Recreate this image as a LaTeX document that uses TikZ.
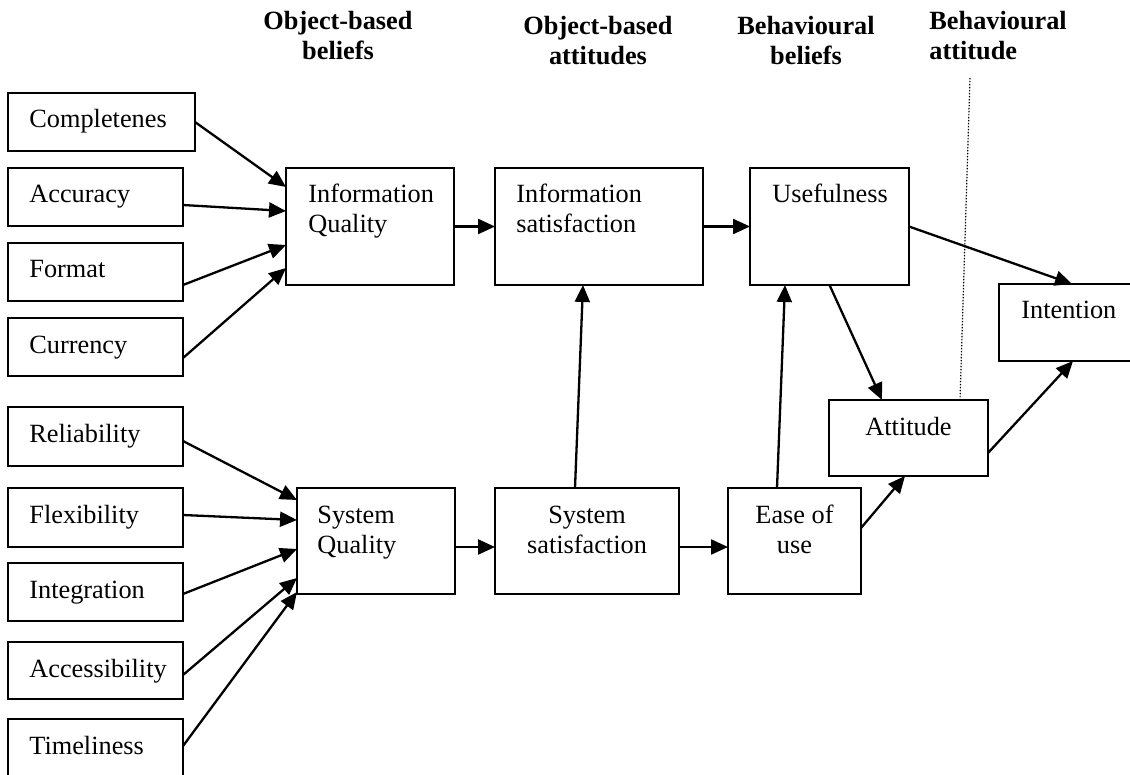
\documentclass[tikz,border=0pt]{standalone}
\usepackage{fontspec}
\setmainfont{Liberation Serif}
\usetikzlibrary{arrows.meta}

% multi-line labels whose baseline is the first line
\newcommand{\stackL}[1]{\begin{tabular}[t]{@{}l@{}}#1\end{tabular}}
\newcommand{\stackC}[1]{\begin{tabular}[t]{@{}c@{}}#1\end{tabular}}
% named empty box: name, x, y (top-left corner), width, height
\newcommand{\mkbox}[5]{\node[box, minimum width=#4*0.5pt, minimum height=#5*0.5pt] (#1) at (#2,#3) {};}

\begin{document}
\begin{tikzpicture}[x=0.5pt,y=-0.5pt,
  every node/.style={font=\fontsize{13.15pt}{15pt}\selectfont},
  box/.style={draw, line width=0.85pt, inner sep=0pt, outer sep=0pt, anchor=north west},
  lbl/.style={inner sep=0pt, anchor=base west},
  clbl/.style={inner sep=0pt, anchor=base},
  head/.style={inner sep=0pt, font=\fontsize{13.15pt}{15pt}\selectfont\bfseries},
  link/.style={line width=1.15pt, -{Triangle[length=8.5pt,width=7.5pt]}},
  sep/.style={line width=0.6pt, dash pattern=on 0.7pt off 0.8pt},
]
\fill[white] (0,0) rectangle (1130,775);
\useasboundingbox (0,0) rectangle (1130,775);

% column headings
\node[head, anchor=base] (h1) at (338,30) {\stackC{Object-based\\beliefs}};
\node[head, anchor=base] (h2) at (598,35) {\stackC{Object-based\\attitudes}};
\node[head, anchor=base] (h3) at (806,35) {\stackC{Behavioural\\beliefs}};
\node[head, anchor=base west] (h4) at (929,30) {\stackL{Behavioural\\attitude}};

% information quality dimensions
\mkbox{comp}{8}{93}{187}{58}
\mkbox{acc}{8}{168}{175}{58}
\mkbox{fmt}{8}{243}{175}{58}
\mkbox{cur}{8}{318}{175}{58}
% system quality dimensions
\mkbox{rel}{8}{407}{175}{59}
\mkbox{flex}{8}{488}{175}{59}
\mkbox{intg}{8}{563}{175}{58}
\mkbox{acs}{8}{642}{175}{57}
\mkbox{tim}{8}{719}{175}{60}
% constructs
\mkbox{iq}{286}{168}{168}{117}
\mkbox{is}{495}{168}{208}{117}
\mkbox{use}{750}{168}{159}{117}
\mkbox{intn}{999}{284}{145}{77}
\mkbox{att}{829}{400}{159}{76}
\mkbox{sq}{297}{488}{158}{106}
\mkbox{ss}{495}{488}{184}{106}
\mkbox{eou}{728}{488}{133}{106}

% box texts
\node[lbl] (compT) at ([xshift=10.5pt,yshift=-17.5pt]comp.north west) {Completenes};
\node[lbl] (accT)  at ([xshift=10.5pt,yshift=-17.5pt]acc.north west) {Accuracy};
\node[lbl] (fmtT)  at ([xshift=10.5pt,yshift=-17.5pt]fmt.north west) {Format};
\node[lbl] (curT)  at ([xshift=10.5pt,yshift=-17.5pt]cur.north west) {Currency};
\node[lbl] (relT)  at ([xshift=10.5pt,yshift=-17.5pt]rel.north west) {Reliability};
\node[lbl] (flexT) at ([xshift=10.5pt,yshift=-17.5pt]flex.north west) {Flexibility};
\node[lbl] (intgT) at ([xshift=10.5pt,yshift=-17.5pt]intg.north west) {Integration};
\node[lbl] (acsT)  at ([xshift=10.5pt,yshift=-17.5pt]acs.north west) {Accessibility};
\node[lbl] (timT)  at ([xshift=10.5pt,yshift=-17.5pt]tim.north west) {Timeliness};
\node[lbl] (iqT)   at ([xshift=11pt,yshift=-17.5pt]iq.north west) {\stackL{Information\\Quality}};
\node[lbl] (isT)   at ([xshift=10.5pt,yshift=-17.5pt]is.north west) {\stackL{Information\\satisfaction}};
\node[lbl] (useT)  at ([xshift=11pt,yshift=-17.5pt]use.north west) {Usefulness};
\node[lbl] (intnT) at ([xshift=11pt,yshift=-17.5pt]intn.north west) {Intention};
\node[lbl] (sqT)   at ([xshift=10pt,yshift=-17.5pt]sq.north west) {\stackL{System\\Quality}};
\node[clbl] (attT) at ([yshift=-17.5pt]att.north) {Attitude};
\node[clbl] (ssT)  at ([yshift=-17.5pt]ss.north) {\stackC{System\\satisfaction}};
\node[clbl] (eouT) at ([yshift=-17.5pt]eou.north) {\stackC{Ease of\\use}};

% dimensions -> information quality
\draw[link] (comp.east) -- ([yshift=-9.5pt]iq.north west);
\draw[link] ([yshift=-4pt]acc.east) -- ([yshift=-21.5pt]iq.north west);
\draw[link] ([yshift=-6.5pt]fmt.east) -- ([yshift=-38.5pt]iq.north west);
\draw[link] ([yshift=-5.5pt]cur.east) -- ([yshift=-50pt]iq.north west);
% dimensions -> system quality
\draw[link] ([yshift=-17pt]rel.north east) -- ([yshift=-6pt]sq.north west);
\draw[link] ([yshift=-13.5pt]flex.north east) -- ([yshift=-16pt]sq.north west);
\draw[link] ([yshift=-15.5pt]intg.north east) -- ([yshift=-30.5pt]sq.north west);
\draw[link] ([yshift=-16.5pt]acs.north east) -- ([yshift=-45pt]sq.north west);
\draw[link] ([yshift=-13.5pt]tim.north east) -- ([yshift=-52pt]sq.north west);

% main chain
\draw[link] (iq.east) -- (is.west);
\draw[link] (is.east) -- (use.west);
\draw[link] ([yshift=-3pt]sq.east) -- ([yshift=-3pt]ss.west);
\draw[link] ([yshift=-3pt]ss.east) -- ([yshift=-3pt]eou.west);
\draw[link] ([xshift=-6pt]ss.north) -- ([xshift=-8pt]is.south);
\draw[link] ([xshift=-8.75pt]eou.north) -- ([xshift=-22.25pt]use.south);
\draw[link] (use.east) -- ([xshift=36.5pt]intn.north west);
\draw[link] (use.south) -- ([xshift=26.5pt]att.north west);
\draw[link] ([yshift=-7.5pt]att.east) -- ([xshift=37pt]intn.south west);
\draw[link] ([yshift=-20pt]eou.north east) -- ([xshift=38pt]att.south west);

% divider before the behavioural attitude column
\coordinate (dtop) at (970,78);
\draw[sep] (dtop) -- ([xshift=65.5pt]att.north west);
\end{tikzpicture}
\end{document}
